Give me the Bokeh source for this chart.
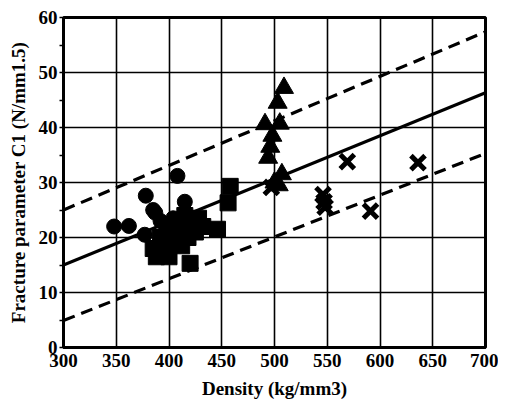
from bokeh.plotting import figure
from bokeh.embed import file_html
from bokeh.resources import INLINE
from bokeh.models import FixedTicker, Range1d

# ---- data ----
circles_x = [348, 362, 378, 377, 385, 387, 392, 398, 404, 408, 415]
circles_y = [22.0, 22.1, 27.6, 20.5, 25.0, 24.5, 23.0, 21.5, 23.5, 31.2, 26.5]

squares_x = [385, 388, 392, 395, 398, 400, 402, 405, 410, 412, 415, 418, 420, 425, 428, 432, 446, 456, 458]
squares_y = [18.0, 16.5, 20.0, 17.5, 22.0, 16.5, 19.0, 21.0, 22.5, 18.5, 24.0, 20.0, 15.3, 21.0, 23.5, 22.0, 21.5, 26.3, 29.3]

triangles_x = [491, 494, 496, 498, 500, 503, 505, 507, 509, 504]
triangles_y = [40.6, 34.5, 36.5, 38.5, 30.0, 44.5, 40.7, 31.5, 47.2, 29.5]

crosses_x = [497, 546, 547, 548, 569, 591, 636]
crosses_y = [29.1, 27.8, 26.5, 25.5, 33.8, 24.8, 33.6]

fit_x = [300, 700]
fit_y = [15.0, 46.3]
upper_y = [25.0, 57.4]
lower_y = [4.9, 35.3]

x_ticks = [300, 350, 400, 450, 500, 550, 600, 650, 700]
y_ticks = [0, 10, 20, 30, 40, 50, 60]
y_minor = [5, 15, 25, 35, 45, 55]

FONT = "Liberation Serif"

p = figure(width=498, height=402, output_backend="svg", toolbar_location=None,
           x_range=Range1d(300, 700), y_range=Range1d(0, 60),
           min_border_left=63, min_border_right=13, min_border_top=17, min_border_bottom=55)

p.outline_line_color = "black"
p.outline_line_width = 3
p.background_fill_color = "white"
p.border_fill_color = "white"

# grid
for g in (p.xgrid, p.ygrid):
    g.grid_line_color = "black"
    g.grid_line_width = 1.6
p.xgrid.ticker = FixedTicker(ticks=x_ticks)
p.ygrid.ticker = FixedTicker(ticks=y_ticks)

# axes
p.xaxis.ticker = FixedTicker(ticks=x_ticks)
p.yaxis.ticker = FixedTicker(ticks=y_ticks, minor_ticks=y_minor)
for ax in (p.xaxis, p.yaxis):
    ax.axis_line_color = "black"
    ax.axis_line_width = 3
    ax.major_label_text_font = FONT
    ax.major_label_text_font_style = "bold"
    ax.major_label_text_font_size = "19px"
    ax.major_label_text_color = "black"
    ax.axis_label_text_font = FONT
    ax.axis_label_text_font_style = "bold"
    ax.axis_label_text_font_size = "19px"
    ax.axis_label_text_color = "black"
    ax.major_tick_in = 0
    ax.minor_tick_in = 0
p.xaxis.major_tick_out = 0
p.xaxis.minor_tick_out = 0
p.xaxis.major_label_standoff = 6
p.xaxis.axis_label_standoff = 8
p.yaxis.major_tick_out = 4
p.yaxis.minor_tick_out = 4
p.yaxis.major_tick_line_width = 1.5
p.yaxis.minor_tick_line_width = 1.5
p.yaxis.major_label_standoff = 2
p.yaxis.axis_label_standoff = 7

p.xaxis.axis_label = "Density (kg/mm3)"
p.yaxis.axis_label = "Fracture parameter C1 (N/mm1.5)"

# regression and bounds
p.line(fit_x, fit_y, line_color="black", line_width=3.2)
p.line(fit_x, upper_y, line_color="black", line_width=3.2, line_dash="12 7")
p.line(fit_x, lower_y, line_color="black", line_width=3.2, line_dash="12 7")

# points
p.scatter(circles_x, circles_y, marker="circle", size=15, fill_color="black", line_color="black")
p.scatter(squares_x, squares_y, marker="square", size=16, fill_color="black", line_color="black")
p.scatter(triangles_x, triangles_y, marker="triangle", size=19, fill_color="black", line_color="black")
p.scatter(crosses_x, crosses_y, marker="x", size=20, line_color="black", line_width=5)

open("out.html", "w").write(file_html(p, INLINE))
